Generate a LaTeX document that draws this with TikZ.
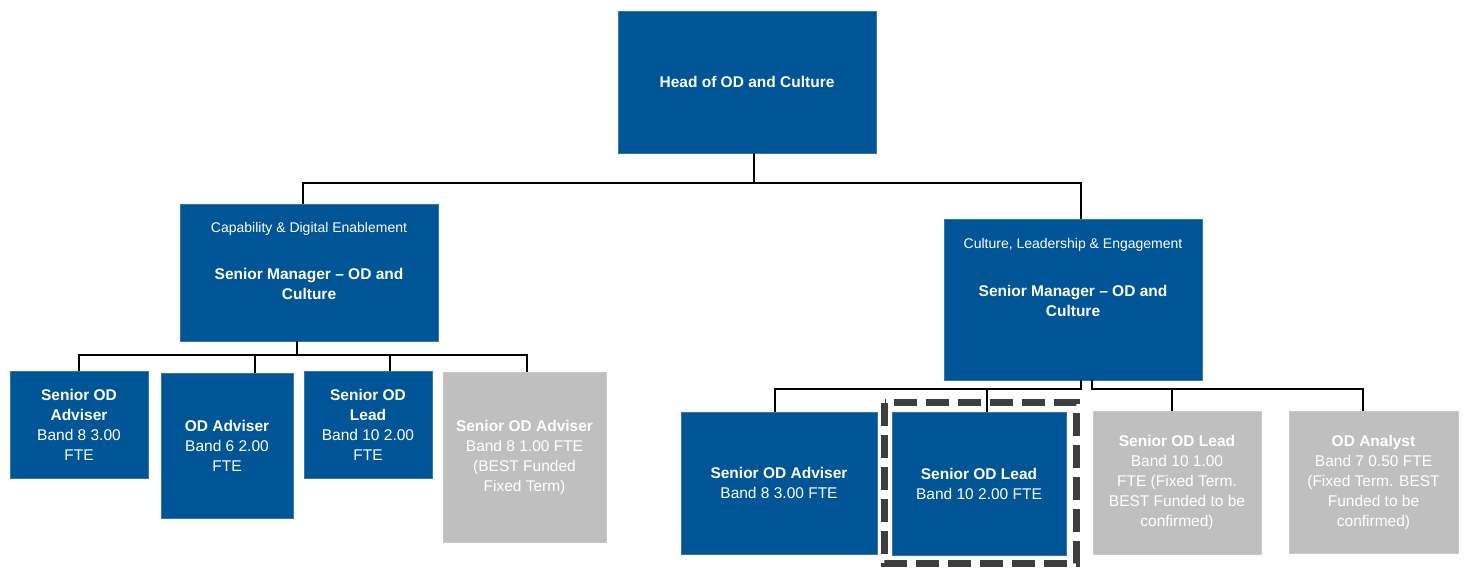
\documentclass[tikz,border=0pt]{standalone}
\usepackage{fontspec}
\setmainfont{Liberation Sans}
\definecolor{odblue}{RGB}{0,85,150}
\definecolor{odgrey}{RGB}{191,191,191}
\definecolor{dashgrey}{RGB}{62,62,62}
\begin{document}
\begin{tikzpicture}[x=1pt,y=-1pt,
  box/.style={fill=odblue,draw=odblue!80!white,line width=0.6pt,inner sep=0pt,text=white,align=center,
    font=\fontsize{15.5}{20}\selectfont},
  greybox/.style={box,fill=odgrey,draw=odgrey!85!white},
  sub/.style={text=white,inner sep=0pt,font=\fontsize{14}{18}\selectfont},
  mgrtxt/.style={text=white,inner sep=0pt,align=center,font=\fontsize{15.5}{20}\selectfont\bfseries},
  conn/.style={draw=black,line width=2pt},
  highlight/.style={draw=dashgrey,line width=7pt,dash pattern=on 23pt off 9pt}]
\useasboundingbox (0,0) rectangle (1464,569);

% top
\node[box,minimum width=258pt,minimum height=142pt] (top) at (747,82) {\bfseries Head of OD and Culture};

% managers
\node[box,minimum width=258pt,minimum height=137pt] (m1) at (309,272.5) {};
\node[sub] (m1s) at (309,229) {Capability \& Digital Enablement};
\node[mgrtxt] (m1t) at (309,283.5) {Senior Manager – OD and\\Culture};

\node[box,minimum width=258pt,minimum height=161pt] (m2) at (1073,299.5) {};
\node[sub] (m2s) at (1073,245) {Culture, Leadership \& Engagement};
\node[mgrtxt] (m2t) at (1073,300.5) {Senior Manager – OD and\\Culture};

% left children
\node[box,minimum width=138pt,minimum height=107pt] (c1) at (79,424.5)
  {{\bfseries Senior OD}\\{\bfseries Adviser}\\Band 8 3.00\\FTE};
\node[box,minimum width=132pt,minimum height=145pt] (c2) at (227,445.5)
  {{\bfseries OD Adviser}\\Band 6 2.00\\FTE};
\node[box,minimum width=128pt,minimum height=107pt] (c3) at (368,424.5)
  {{\bfseries Senior OD}\\{\bfseries Lead}\\Band 10 2.00\\FTE};
\node[greybox,minimum width=163pt,minimum height=170pt] (c4) at (524.5,457)
  {{\bfseries Senior OD Adviser}\\Band 8 1.00 FTE\\(BEST Funded\\Fixed Term)};

% right children
\node[box,minimum width=196pt,minimum height=142pt] (rc1) at (779,483)
  {{\bfseries Senior OD Adviser}\\Band 8 3.00 FTE};
\node[box,minimum width=174pt,minimum height=143pt] (rc2) at (979,483.5)
  {{\bfseries Senior OD Lead}\\Band 10 2.00 FTE};
\node[greybox,minimum width=168pt,minimum height=143pt] (rc3) at (1177,482.5)
  {{\bfseries Senior OD Lead}\\Band 10 1.00\\FTE (Fixed Term.\\BEST Funded to be\\confirmed)};
\node[greybox,minimum width=169pt,minimum height=142pt] (rc4) at (1373.5,482)
  {{\bfseries OD Analyst}\\Band 7 0.50 FTE\\(Fixed Term. BEST\\Funded to be\\confirmed)};

% highlight
\draw[highlight] ([shift={(-7,-9)}]rc2.north west) rectangle ([shift={(10,8)}]rc2.south east);

% connectors
\coordinate (b0) at (754,183);
\coordinate (b1) at (297,355);
\coordinate (b2) at (1081,389);
\coordinate (b3) at (1092,389);

\draw[conn] (top.south -| b0) -- (b0);
\draw[conn] ([xshift=-6]m1.north) |- (b0) -| ([xshift=8]m2.north);

\draw[conn] (m1.south -| b1) -- (b1);
\draw[conn] (c1.north) |- ([xshift=2.5]c4.north |- b1) -- ([xshift=2.5]c4.north);
\draw[conn] ([xshift=28]c2.north) -- ([xshift=28]c2.north |- b1);
\draw[conn] ([xshift=22]c3.north) -- ([xshift=22]c3.north |- b1);

\draw[conn] (m2.south -| b2) -- (b2) -| ([xshift=-4]rc1.north);
\draw[conn] ([xshift=8]rc2.north) -- ([xshift=8]rc2.north |- b2);
\draw[conn] (m2.south -| b3) -- (b3) -| ([xshift=-10.5]rc4.north);
\draw[conn] ([xshift=-5]rc3.north) -- ([xshift=-5]rc3.north |- b3);
\end{tikzpicture}
\end{document}
